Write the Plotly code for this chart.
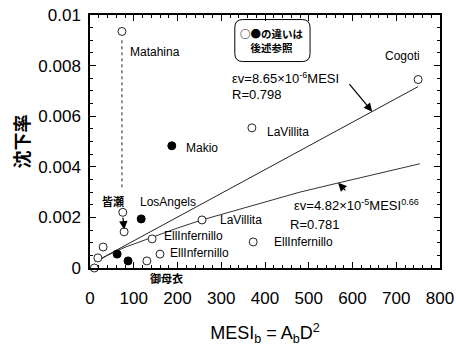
import plotly.graph_objects as go

# ---- data ----
open_x = [73, 750, 370, 256, 142, 160, 373, 130, 78, 75, 30, 18, 10]
open_y = [0.00935, 0.00745, 0.00554, 0.0019, 0.00115, 0.00055, 0.00103, 0.00028, 0.00143, 0.0022, 0.00083, 0.0004, 0.0]
filled_x = [187, 117, 62, 87]
filled_y = [0.00483, 0.00194, 0.00055, 0.00028]

fit1_x = [11, 750]
fit1_y = [0.00024, 0.00717]
fit2_x = [16, 40, 80, 142, 200, 256, 330, 400, 480, 567, 660, 754]
fit2_y = [0.00026, 0.00050, 0.00082, 0.00122, 0.00158, 0.0019, 0.00227, 0.00262, 0.00300, 0.00336, 0.00375, 0.00412]

drop_x = [73, 73]
drop_y = [0.0090, 0.0031]

xtick_vals = [0, 100, 200, 300, 400, 500, 600, 700, 800]
xtick_text = ["0", "100", "200", "300", "400", "500", "600", "700", "800"]
ytick_vals = [0, 0.002, 0.004, 0.006, 0.008, 0.01]
ytick_text = ["0", "0.002", "0.004", "0.006", "0.008", "0.01"]

FONT = "Liberation Sans, Arial, sans-serif"
JP = "Noto Sans CJK JP, sans-serif"

fig = go.Figure()
fig.add_trace(go.Scatter(x=fit1_x, y=fit1_y, mode="lines",
                         line=dict(color="#222", width=1), hoverinfo="skip"))
fig.add_trace(go.Scatter(x=fit2_x, y=fit2_y, mode="lines",
                         line=dict(color="#333", width=1), hoverinfo="skip"))
fig.add_trace(go.Scatter(x=drop_x, y=drop_y, mode="lines",
                         line=dict(color="#222", width=1, dash="3px,3px"), hoverinfo="skip"))
fig.add_trace(go.Scatter(x=open_x, y=open_y, mode="markers", cliponaxis=False,
                         marker=dict(symbol="circle", size=8, color="white",
                                     line=dict(color="#222", width=1))))
fig.add_trace(go.Scatter(x=filled_x, y=filled_y, mode="markers", cliponaxis=False,
                         marker=dict(symbol="circle", size=8, color="black",
                                     line=dict(color="black", width=1))))

def lab(x, y, t, size=12, anchor="left", font=FONT, yref="y"):
    fig.add_annotation(x=x, y=y, xref="x", yref=yref, text=t, showarrow=False,
                       xanchor=anchor, yanchor="middle",
                       font=dict(family=font, size=size, color="black"))

lab(87, 0.00855, "Matahina")
lab(215, 0.00475, "Makio")
lab(759, 0.00836, "Cogoti", anchor="right")
lab(320, 0.00752, "εv=8.65×10<sup>-6</sup>MESI", size=13)
lab(320, 0.00685, "R=0.798", size=13)
lab(400, 0.00539, "LaVillita")
lab(462, 0.0025, "εv=4.82×10<sup>-5</sup>MESI<sup>0.66</sup>", size=13)
lab(453, 0.0017, "R=0.781", size=13)
lab(293, 0.0019, "LaVillita")
lab(165, 0.00127, "EllInfernillo")
lab(178, 0.0006, "EllInfernillo")
lab(416, 0.00103, "EllInfernillo")
lab(110, 0.0026, "LosAngels")
lab(23, 0.00265, "<b>皆瀬</b>", size=11, font=JP)
lab(174, -0.04, "<b>御母衣</b>", size=11, anchor="center", font=JP, yref="paper")
lab(338, 0.0090, "<b>○●の違いは<br>後述参照</b>", size=10.5, font=JP)

# arrows
for (tx, ty, hx, hy) in [(590, 0.00733, 645, 0.00618), (587, 0.00301, 567, 0.00337), (75, 0.00205, 78, 0.00152)]:
    fig.add_annotation(x=hx, y=hy, ax=tx, ay=ty, xref="x", yref="y", axref="x", ayref="y",
                       text="", showarrow=True, arrowhead=2, arrowsize=1.4,
                       arrowwidth=1.2, arrowcolor="black")

# rounded box
x0, x1, y0, y1 = 331, 503, 0.00816, 0.00982
rx, ry = 18, 0.00032
path = (f"M {x0+rx},{y1} L {x1-rx},{y1} Q {x1},{y1} {x1},{y1-ry} "
        f"L {x1},{y0+ry} Q {x1},{y0} {x1-rx},{y0} L {x0+rx},{y0} "
        f"Q {x0},{y0} {x0},{y0+ry} L {x0},{y1-ry} Q {x0},{y1} {x0+rx},{y1} Z")
fig.add_shape(type="path", path=path, xref="x", yref="y", line=dict(color="black", width=1))

axis_common = dict(showgrid=False, zeroline=False, showline=True, linecolor="black",
                   linewidth=1.5, mirror="allticks", ticks="inside", ticklen=6,
                   tickcolor="black", tickwidth=1, automargin=False,
                   tickfont=dict(family=FONT, size=17, color="black"))

fig.update_layout(
    width=456, height=346, margin=dict(l=90, r=16, t=15, b=78),
    paper_bgcolor="white", plot_bgcolor="white", showlegend=False,
    xaxis=dict(range=[0, 800], tickvals=xtick_vals, ticktext=xtick_text,
               ticklabelstandoff=14,
               minor=dict(dtick=20, ticks="inside", ticklen=3, tickcolor="black"),
               title=dict(text="MESI<sub>b</sub> = A<sub>b</sub>D<sup>2</sup>",
                          font=dict(family=FONT, size=18, color="black"), standoff=21),
               **axis_common),
    yaxis=dict(range=[0, 0.01], tickvals=ytick_vals, ticktext=ytick_text,
               ticklabelstandoff=4,
               minor=dict(dtick=0.0005, ticks="inside", ticklen=3, tickcolor="black"),
               title=dict(text="<b>沈下率</b>", font=dict(family=JP, size=18, color="black"),
                          standoff=4),
               **axis_common),
)

fig.write_html("out.html")
